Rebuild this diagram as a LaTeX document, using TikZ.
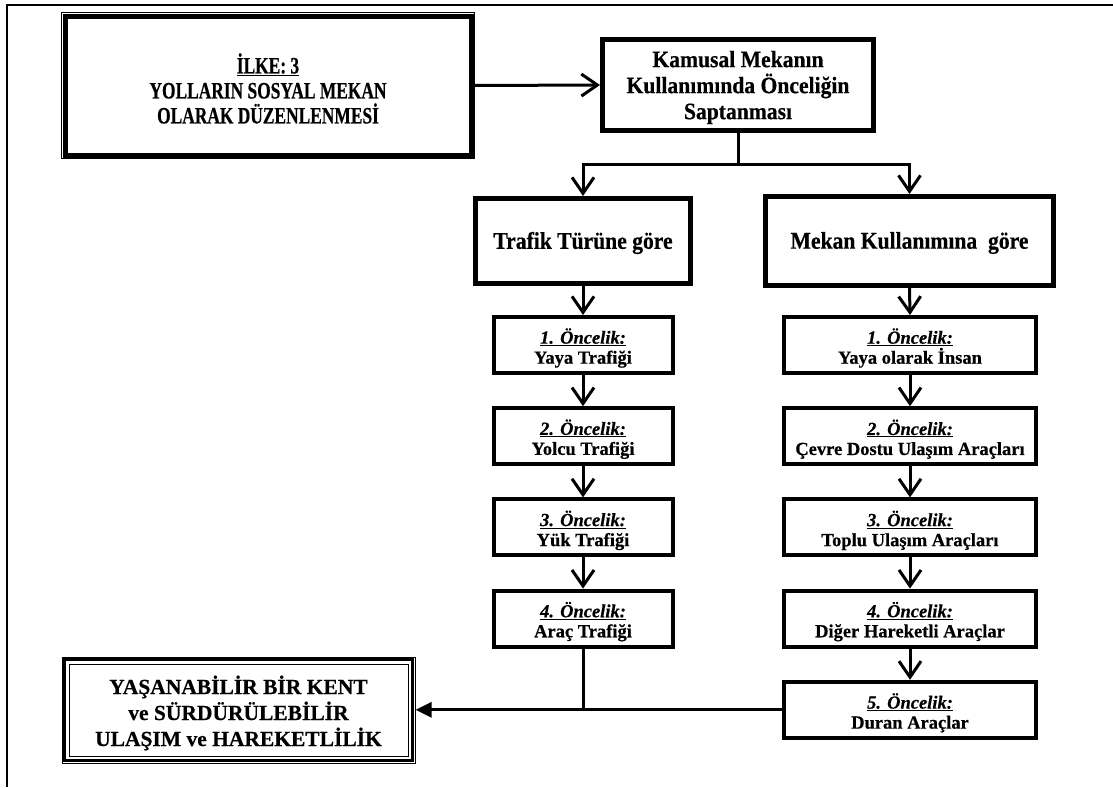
\documentclass[tikz,border=0pt]{standalone}
\usepackage{fontspec}
\setmainfont{Liberation Serif}[BoldFeatures={FakeBold=0.5},BoldItalicFeatures={FakeBold=0.5}]
\newfontfamily\condfont{Liberation Serif}[FakeStretch=0.74,BoldFeatures={FakeBold=0.5}]
\newfontfamily\headfont{Liberation Serif}[FakeStretch=0.92,BoldFeatures={FakeBold=0.5}]
\newfontfamily\catfont{Liberation Serif}[FakeStretch=0.90,BoldFeatures={FakeBold=0.5}]
\usetikzlibrary{arrows.meta}
\begin{document}
\begin{tikzpicture}[x=1pt,y=-1pt,
  conn/.style={line width=3pt,-{Straight Barb[length=16pt,width=22pt]}},
  plain/.style={line width=3pt},
  headbox/.style={draw,line width=5pt,inner sep=0pt},
  txt/.style={inner sep=0pt,align=center},
  prio/.style={draw,line width=4pt,minimum height=56pt,inner sep=0pt},
  lprio/.style={prio,minimum width=179pt},
  rprio/.style={prio,minimum width=252pt},
  priotxt/.style={txt,font=\bfseries\fontsize{18.5}{20}\selectfont},
  thinline/.style={line width=1pt}]
\useasboundingbox (0,0) rectangle (1113,787);
% outer frame (top and left edges)
\draw[line width=2pt] (7,787) -- (7,5) -- (1113,5);

% principle box (thin outer, thick inner)
\node[draw,thinline,minimum width=413pt,minimum height=146pt,inner sep=0pt] (b1) at (268,85.5) {};
\draw[line width=5pt] ([shift={(4,4)}]b1.north west) rectangle ([shift={(-4,-4)}]b1.south east);
\node[txt,font=\condfont\bfseries\fontsize{23.5}{25}\selectfont] (b1t) at ([shift={(0,3)}]b1.center)
  {\underline{İLKE: 3}\\YOLLARIN SOSYAL MEKAN\\OLARAK DÜZENLENMESİ};

% main box
\node[headbox,minimum width=271pt,minimum height=91pt] (b2) at (738,85) {};
\draw[thinline] ([shift={(4.5,4.5)}]b2.north west) rectangle ([shift={(-4.5,-4.5)}]b2.south east);
\node[txt,font=\headfont\bfseries\fontsize{23.5}{26}\selectfont] (b2t) at ([shift={(0,2.5)}]b2.center)
  {Kamusal Mekanın\\Kullanımında Önceliğin\\Saptanması};

% category boxes
\node[headbox,minimum width=215pt,minimum height=85pt] (tr) at (583,241) {};
\draw[thinline] ([shift={(4.5,4.5)}]tr.north west) rectangle ([shift={(-4.5,-4.5)}]tr.south east);
\node[txt,font=\catfont\bfseries\fontsize{24}{26}\selectfont] (trt) at ([shift={(0,2)}]tr.center) {Trafik Türüne göre};
\node[headbox,minimum width=288pt,minimum height=89pt] (mk) at (909.5,241) {};
\draw[thinline] ([shift={(4.5,4.5)}]mk.north west) rectangle ([shift={(-4.5,-4.5)}]mk.south east);
\node[txt,font=\catfont\bfseries\fontsize{24}{26}\selectfont] (mkt) at ([shift={(0,2)}]mk.center) {Mekan Kullanımına\ \ göre};

% left column
\node[lprio] (l1) at (583,345) {};
\node[lprio] (l2) at (583,436.2) {};
\node[lprio] (l3) at (583,527.4) {};
\node[lprio] (l4) at (583,618.6) {};
\node[priotxt] (l1t) at ([shift={(0,3)}]l1.center) {\underline{\textit{1. Öncelik:}}\\Yaya Trafiği};
\node[priotxt] (l2t) at ([shift={(0,3)}]l2.center) {\underline{\textit{2. Öncelik:}}\\Yolcu Trafiği};
\node[priotxt] (l3t) at ([shift={(0,3)}]l3.center) {\underline{\textit{3. Öncelik:}}\\Yük Trafiği};
\node[priotxt] (l4t) at ([shift={(0,3)}]l4.center) {\underline{\textit{4. Öncelik:}}\\Araç Trafiği};

% right column
\node[rprio] (r1) at (910,345) {};
\node[rprio] (r2) at (910,436.2) {};
\node[rprio] (r3) at (910,527.4) {};
\node[rprio] (r4) at (910,618.6) {};
\node[rprio] (r5) at (910,709.8) {};
\node[priotxt] (r1t) at ([shift={(0,3)}]r1.center) {\underline{\textit{1. Öncelik:}}\\Yaya olarak İnsan};
\node[priotxt] (r2t) at ([shift={(0,3)}]r2.center) {\underline{\textit{2. Öncelik:}}\\Çevre Dostu Ulaşım Araçları};
\node[priotxt] (r3t) at ([shift={(0,3)}]r3.center) {\underline{\textit{3. Öncelik:}}\\Toplu Ulaşım Araçları};
\node[priotxt] (r4t) at ([shift={(0,3)}]r4.center) {\underline{\textit{4. Öncelik:}}\\Diğer Hareketli Araçlar};
\node[priotxt] (r5t) at ([shift={(0,3)}]r5.center) {\underline{\textit{5. Öncelik:}}\\Duran Araçlar};

% final box (thin-thick-thin)
\node[draw,thinline,minimum width=353pt,minimum height=106pt,inner sep=0pt] (fin) at (238.5,710) {};
\draw[line width=3pt] ([shift={(3,3)}]fin.north west) rectangle ([shift={(-3,-3)}]fin.south east);
\draw[thinline] ([shift={(7.5,7.5)}]fin.north west) rectangle ([shift={(-7.5,-7.5)}]fin.south east);
\node[txt,font=\bfseries\fontsize{21.5}{26}\selectfont] (fint) at ([shift={(0,3)}]fin.center)
  {YAŞANABİLİR BİR KENT\\ve SÜRDÜRÜLEBİLİR\\ULAŞIM ve HAREKETLİLİK};

% connectors
\draw[conn] (b1.east) -- (b2.west);
\coordinate (br) at (738,164);
\draw[plain] (b2.south) -- (br);
\draw[conn] (br) -| (tr.north);
\draw[conn] (br) -| (mk.north);
\draw[conn] (tr.south) -- (l1.north);
\draw[conn] (l1.south) -- (l2.north);
\draw[conn] (l2.south) -- (l3.north);
\draw[conn] (l3.south) -- (l4.north);
\draw[conn] (mk.south) -- (r1.north);
\draw[conn] (r1.south) -- (r2.north);
\draw[conn] (r2.south) -- (r3.north);
\draw[conn] (r3.south) -- (r4.north);
\draw[conn] (r4.south) -- (r5.north);
\coordinate (jn) at (l4.south |- r5.west);
\draw[plain] (l4.south) -- (jn);
\draw[line width=3pt,-{Triangle[length=16pt,width=15pt]}] (r5.west) -- (r5.west -| fin.east);
\end{tikzpicture}
\end{document}
